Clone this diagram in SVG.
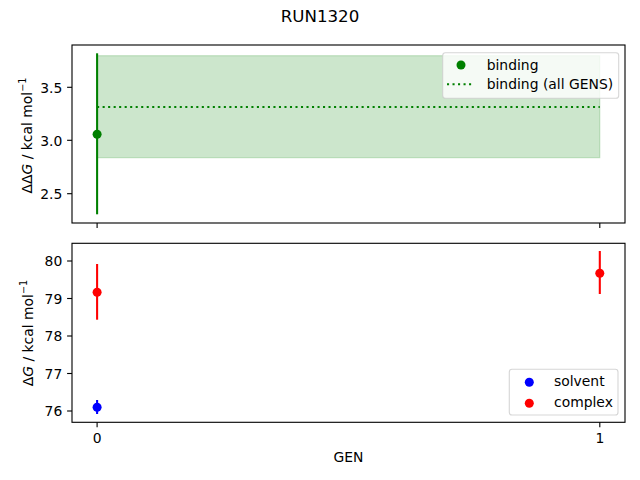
<svg xmlns="http://www.w3.org/2000/svg" width="640" height="480" viewBox="0 0 640 480">
<style>
text{font-family:"DejaVu Sans","Liberation Sans",sans-serif;font-size:13.9px;fill:#000}
.spine{fill:none;stroke:#000;stroke-width:1.11}
.tick{stroke:#000;stroke-width:1.11}
.yl{text-anchor:end}
.xl{text-anchor:middle}
.leg{fill:#fff;fill-opacity:0.8;stroke:#ccc;stroke-opacity:0.8;stroke-width:1.11}
.eb{stroke-width:2.08}
</style>
<rect width="640" height="480" fill="#fff"/>
<text x="320" y="22" text-anchor="middle" style="font-size:16.67px">RUN1320</text>

<g id="top-axes">
<rect x="97.1" y="55.7" width="502.7" height="102" fill="green" fill-opacity="0.2" stroke="green" stroke-opacity="0.2" stroke-width="1.11"/>
<line x1="97.1" y1="107" x2="599.8" y2="107" stroke="green" stroke-width="2.08" stroke-dasharray="2.08 3.43"/>
<line class="eb" x1="97.1" y1="53.3" x2="97.1" y2="214.3" stroke="green"/>
<circle cx="97.1" cy="134.3" r="4.5" fill="green"/>
<rect class="spine" x="72" y="45" width="553" height="178"/>
<g class="tick">
<line x1="97.1" y1="223" x2="97.1" y2="227.9"/>
<line x1="599.8" y1="223" x2="599.8" y2="227.9"/>
<line x1="72" y1="87.3" x2="67.1" y2="87.3"/>
<line x1="72" y1="140.3" x2="67.1" y2="140.3"/>
<line x1="72" y1="193.7" x2="67.1" y2="193.7"/>
</g>
<text class="yl" x="62.3" y="92.6">3.5</text>
<text class="yl" x="62.3" y="145.6">3.0</text>
<text class="yl" x="62.3" y="199">2.5</text>
<text transform="translate(32.3,135.5) rotate(-90)" text-anchor="middle">ΔΔ<tspan font-style="italic">G</tspan> / kcal mol<tspan dy="-6" style="font-size:9.7px">−1</tspan></text>
<g id="legend-top">
<rect class="leg" x="442.7" y="52.7" width="176" height="45.6" rx="2.8"/>
<circle cx="461" cy="65" r="4.5" fill="green"/>
<line x1="447" y1="84.3" x2="474" y2="84.3" stroke="green" stroke-width="2.08" stroke-dasharray="2.08 3.43"/>
<text x="486.7" y="69.5">binding</text>
<text x="486.7" y="89.3">binding (all GENS)</text>
</g>
</g>

<g id="bottom-axes">
<line class="eb" x1="97.1" y1="264" x2="97.1" y2="319.7" stroke="red"/>
<circle cx="97.1" cy="292.3" r="4.5" fill="red"/>
<line class="eb" x1="97.1" y1="400" x2="97.1" y2="414" stroke="blue"/>
<circle cx="97.1" cy="407.3" r="4.5" fill="blue"/>
<line class="eb" x1="599.8" y1="251" x2="599.8" y2="294" stroke="red"/>
<circle cx="599.8" cy="273.3" r="4.5" fill="red"/>
<rect class="spine" x="72" y="243.3" width="553" height="179"/>
<g class="tick">
<line x1="97.1" y1="422.3" x2="97.1" y2="427.2"/>
<line x1="599.8" y1="422.3" x2="599.8" y2="427.2"/>
<line x1="72" y1="261" x2="67.1" y2="261"/>
<line x1="72" y1="298.5" x2="67.1" y2="298.5"/>
<line x1="72" y1="336" x2="67.1" y2="336"/>
<line x1="72" y1="373.5" x2="67.1" y2="373.5"/>
<line x1="72" y1="411" x2="67.1" y2="411"/>
</g>
<text class="yl" x="62.3" y="266.3">80</text>
<text class="yl" x="62.3" y="303.8">79</text>
<text class="yl" x="62.3" y="341.3">78</text>
<text class="yl" x="62.3" y="378.8">77</text>
<text class="yl" x="62.3" y="416.3">76</text>
<text class="xl" x="97.1" y="442.5">0</text>
<text class="xl" x="599.8" y="442.5">1</text>
<text class="xl" x="348.5" y="461.7">GEN</text>
<text transform="translate(33.3,333) rotate(-90)" text-anchor="middle">Δ<tspan font-style="italic">G</tspan> / kcal mol<tspan dy="-6" style="font-size:9.7px">−1</tspan></text>
<g id="legend-bottom">
<rect class="leg" x="509.3" y="369.3" width="108.7" height="45.7" rx="2.8"/>
<circle cx="529.3" cy="382.3" r="4.5" fill="blue"/>
<circle cx="529.3" cy="403.3" r="4.5" fill="red"/>
<text x="554" y="386.3">solvent</text>
<text x="554" y="406.6">complex</text>
</g>
</g>
</svg>
